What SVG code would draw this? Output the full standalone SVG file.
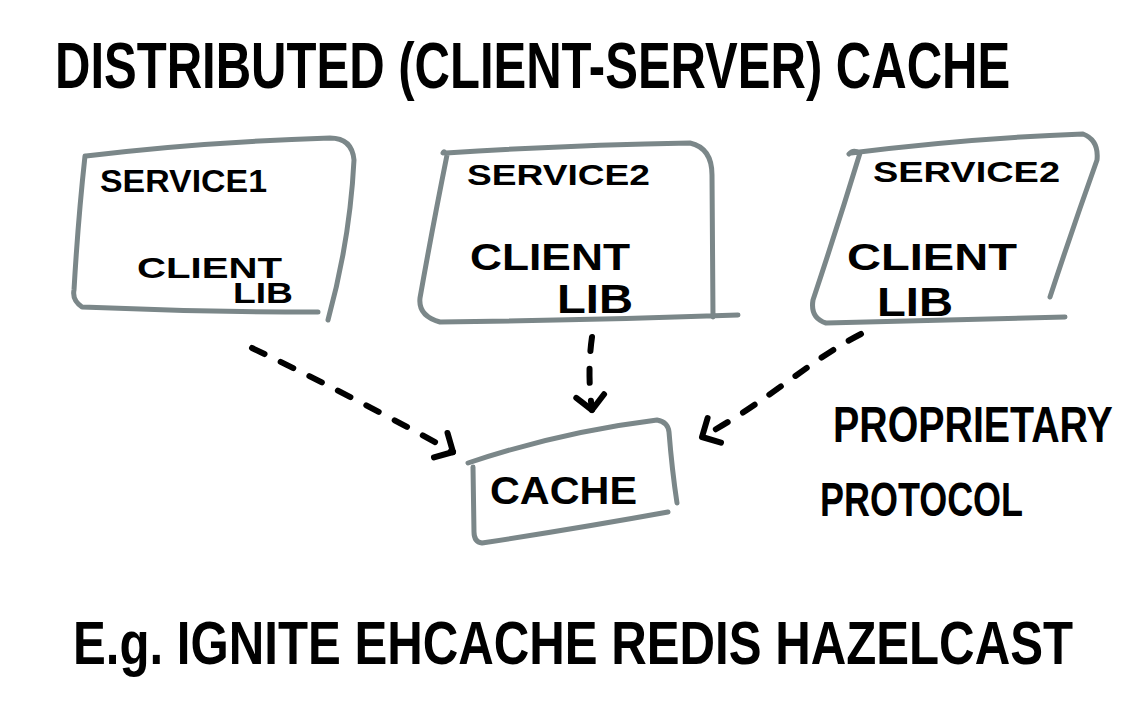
<svg xmlns="http://www.w3.org/2000/svg" width="1140" height="716" viewBox="0 0 1140 716">
  <style>
    .box { fill: none; stroke: #7b8789; stroke-width: 5; stroke-linecap: round; stroke-linejoin: round; }
    .t { font-family: "Liberation Sans", Arial, sans-serif; font-weight: bold; fill: #000; }
    .edge { fill: none; stroke: #000; stroke-width: 6; stroke-linecap: round; stroke-dasharray: 14 18; }
  </style>
  <defs>
    <marker id="head" viewBox="-22 -18 28 36" markerWidth="28" markerHeight="36" refX="0" refY="0" orient="auto" markerUnits="userSpaceOnUse">
      <path d="M -14 -14 L 0 0 L -14 14" fill="none" stroke="#000" stroke-width="6" stroke-linecap="round" stroke-linejoin="round"/>
    </marker>
  </defs>
  <rect width="1140" height="716" fill="#fff"/>

  <text class="t" transform="translate(55,88) scale(0.8,1)" x="0" y="0" font-size="64" textLength="1194" lengthAdjust="spacingAndGlyphs">DISTRIBUTED (CLIENT-SERVER) CACHE</text>

  <g id="service1">
    <path class="box" d="M 86 156 Q 200 142 330 138 Q 352 138 354 160 Q 350 240 328 320 M 318 312 Q 200 312 82 307 Q 72 300 74 290 Q 78 220 85 156"/>
    <text class="t" x="100" y="192" font-size="32" textLength="167" lengthAdjust="spacingAndGlyphs">SERVICE1</text>
    <text class="t" x="137" y="278" font-size="30" textLength="145" lengthAdjust="spacingAndGlyphs">CLIENT</text>
    <text class="t" x="233" y="303" font-size="30" textLength="60" lengthAdjust="spacingAndGlyphs">LIB</text>
  </g>

  <g id="service2">
    <path class="box" d="M 446 153 Q 570 145 690 143 Q 712 148 712 175 L 713 317 M 738 315 Q 600 320 440 322 Q 418 316 420 298 Q 432 230 447 155 Q 444 150 443 153"/>
    <text class="t" x="467" y="185" font-size="30" textLength="183" lengthAdjust="spacingAndGlyphs">SERVICE2</text>
    <text class="t" x="470" y="270" font-size="36" textLength="160" lengthAdjust="spacingAndGlyphs">CLIENT</text>
    <text class="t" x="557" y="313" font-size="40" textLength="76" lengthAdjust="spacingAndGlyphs">LIB</text>
  </g>

  <g id="service3">
    <path class="box" d="M 851 153 Q 970 138 1083 134 Q 1099 140 1097 160 Q 1072 230 1050 297 M 1065 317 Q 950 320 826 323 Q 810 318 813 300 Q 838 225 860 153 Q 853 149 849 154"/>
    <text class="t" x="873" y="182" font-size="30" textLength="187" lengthAdjust="spacingAndGlyphs">SERVICE2</text>
    <text class="t" x="847" y="270" font-size="36" textLength="170" lengthAdjust="spacingAndGlyphs">CLIENT</text>
    <text class="t" x="877" y="316" font-size="40" textLength="76" lengthAdjust="spacingAndGlyphs">LIB</text>
  </g>

  <g id="cache">
    <path class="box" d="M 468 463 Q 560 432 657 420 Q 668 422 669 432 Q 672 470 677 503 M 668 512 Q 580 528 482 543 Q 474 542 474 532 L 473 467"/>
    <text class="t" x="490" y="504" font-size="38" textLength="147" lengthAdjust="spacingAndGlyphs">CACHE</text>
  </g>

  <g id="connectors">
    <path class="edge" d="M 252 348 Q 350 395 453 452" marker-end="url(#head)"/>
    <path class="edge" d="M 592 337 Q 587 372 592 410" marker-end="url(#head)"/>
    <path class="edge" d="M 861 334 C 810 360 770 400 702 437" marker-end="url(#head)"/>
  </g>

  <text class="t" transform="translate(833,442) scale(0.75,1)" x="0" y="0" font-size="50" textLength="373" lengthAdjust="spacingAndGlyphs">PROPRIETARY</text>
  <text class="t" x="820" y="516" font-size="48" textLength="203" lengthAdjust="spacingAndGlyphs">PROTOCOL</text>

  <text class="t" transform="translate(73,664) scale(0.8,1)" x="0" y="0" font-size="62" textLength="1250" lengthAdjust="spacingAndGlyphs">E.g. IGNITE EHCACHE REDIS HAZELCAST</text>
</svg>
